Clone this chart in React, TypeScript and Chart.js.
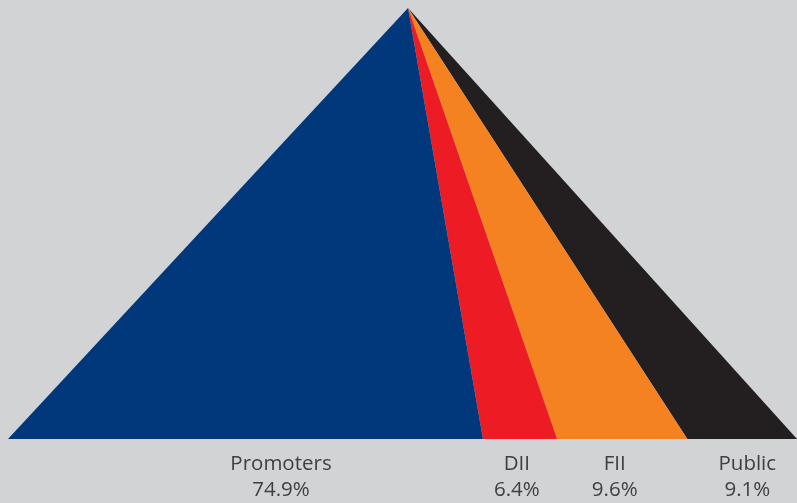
import React, { useEffect, useRef } from "react";
import { Chart, registerables } from "chart.js";

Chart.register(...registerables);

const categories = ["Promoters", "DII", "FII", "Public"];
const shareLabels = ["74.9%", "6.4%", "9.6%", "9.1%"];
// width of each wedge along the pyramid base (percent of base)
const baseWidths = [60.2, 9.4, 16.5, 13.9];
// apex position along the base (percent)
const apexPosition = 50.7;
// label centres along the base (percent)
const labelPositions = [34.6, 64.5, 76.9, 93.7];
const colors = ["#00387b", "#ed1c24", "#f58220", "#231f20"];

const labelPlugin = {
  id: "pyramidLabels",
  afterDraw(chart: any) {
    const ctx = chart.ctx;
    const xs = chart.scales.x;
    const bottom = chart.chartArea.bottom;
    ctx.save();
    ctx.fillStyle = "#404040";
    ctx.font = '20.5px "Open Sans"';
    ctx.textAlign = "center";
    ctx.textBaseline = "alphabetic";
    categories.forEach((c, i) => {
      const x = xs.getPixelForValue(labelPositions[i]);
      ctx.fillText(c, x, bottom + 31);
      ctx.fillText(shareLabels[i], x, bottom + 56.5);
    });
    ctx.restore();
  },
};

export default function App() {
  const ref = useRef<HTMLCanvasElement>(null);
  useEffect(() => {
    let acc = 0;
    const datasets = categories.map((c, i) => {
      const left = acc;
      acc += baseWidths[i];
      return {
        label: c,
        data: [
          { x: apexPosition, y: 100 },
          { x: left, y: 0 },
          { x: acc, y: 0 },
        ],
        showLine: true,
        fill: "shape",
        backgroundColor: colors[i],
        borderColor: "transparent",
        borderWidth: 0,
        pointRadius: 0,
        pointHoverRadius: 0,
        tension: 0,
      };
    });
    const chart = new Chart(ref.current as HTMLCanvasElement, {
      type: "scatter",
      data: { datasets: datasets as any },
      options: {
        responsive: false,
        animation: false,
        layout: { padding: { left: 8, right: 0, top: 8, bottom: 64 } },
        plugins: { legend: { display: false }, tooltip: { enabled: false } },
        scales: {
          x: { type: "linear", min: 0, max: 100, display: false },
          y: { type: "linear", min: 0, max: 100, display: false },
        },
      },
      plugins: [labelPlugin],
    });
    return () => chart.destroy();
  }, []);
  return (
    <div
      style={{
        position: "fixed",
        left: 0,
        top: 0,
        width: 797,
        height: 503,
        background: "#d1d3d4",
      }}
    >
      <canvas ref={ref} width={797} height={503} />
    </div>
  );
}
